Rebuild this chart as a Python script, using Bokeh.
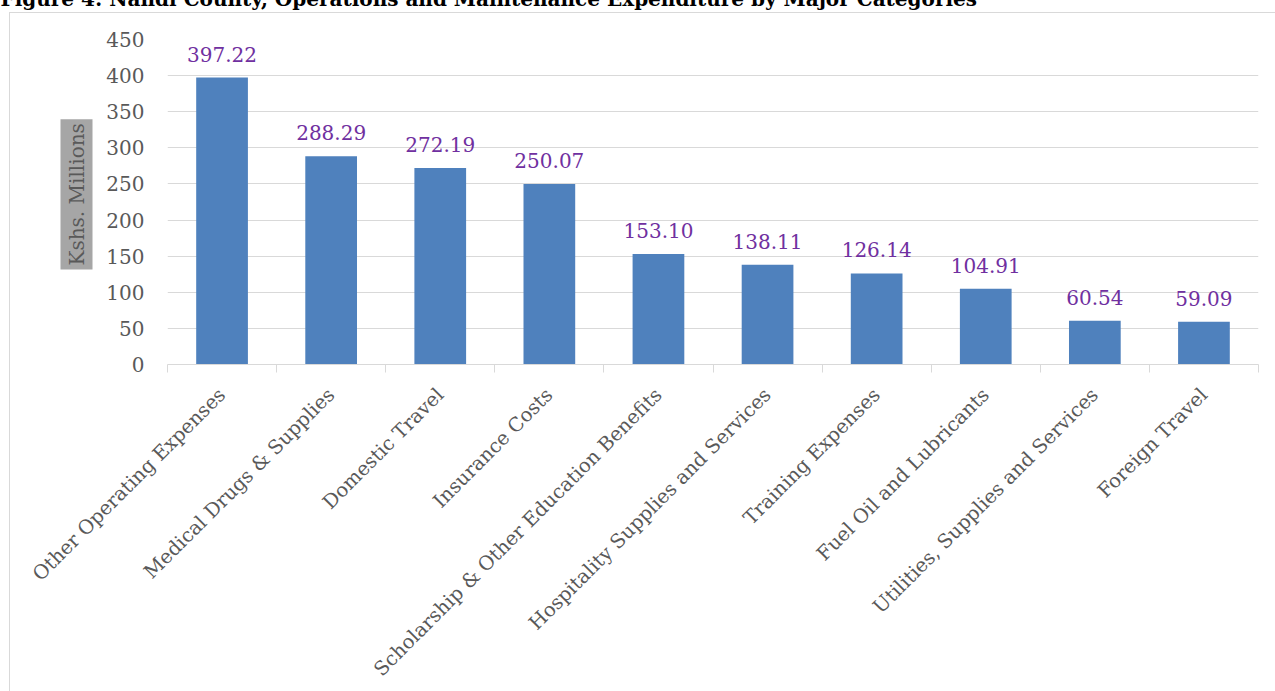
import math
from bokeh.plotting import figure
from bokeh.models import (ColumnDataSource, Range1d, FixedTicker, LabelSet, Title)
from bokeh.core.properties import value
from bokeh.embed import file_html
from bokeh.resources import INLINE

categories = [
    "Other Operating Expenses",
    "Medical Drugs & Supplies",
    "Domestic Travel",
    "Insurance Costs",
    "Scholarship & Other Education Benefits",
    "Hospitality Supplies and Services",
    "Training Expenses",
    "Fuel Oil and Lubricants",
    "Utilities, Supplies and Services",
    "Foreign Travel",
]
values = [397.22, 288.29, 272.19, 250.07, 153.10, 138.11, 126.14, 104.91, 60.54, 59.09]
value_labels = ["397.22", "288.29", "272.19", "250.07", "153.10", "138.11", "126.14", "104.91", "60.54", "59.09"]
y_ticks = [0, 50, 100, 150, 200, 250, 300, 350, 400, 450]
title_text = "Figure 4: Nandi County, Operations and Maintenance Expenditure by Major Categories"
y_title = "Kshs. Millions"

FONT = "DejaVu Serif"
GRAY = "#595959"
LINE = "#D9D9D9"
BAR = "#4F81BD"
LABEL = "#7030A0"

SHIFT = 45  # canvas is moved up so the top of the title is cut by the page edge

n = len(categories)
centers = [i + 0.5 for i in range(n)]
src = ColumnDataSource(dict(x=centers, cat=categories, val=values, lbl=value_labels))

p = figure(width=1275, height=691 + SHIFT,
           x_range=Range1d(0, n), y_range=Range1d(0, 450),
           output_backend="svg", toolbar_location=None,
           min_border_left=167, min_border_right=17, min_border_top=39 + SHIFT, min_border_bottom=0)
# chart-area frame line (left and top edges) drawn as the element background
p.styles = {
    "margin-top": f"-{SHIFT}px",
    "background-color": "white",
    "background-image": f"linear-gradient({LINE}, {LINE}), linear-gradient({LINE}, {LINE})",
    "background-size": "100% 1px, 1px 100%",
    "background-position": f"9px {12 + SHIFT}px, 9px {12 + SHIFT}px",
    "background-repeat": "no-repeat",
}
p.outline_line_color = None
p.background_fill_color = None
p.border_fill_color = None

# chart title (its top is cut by the page edge in the reference)
p.title.text = title_text
p.title.align = "left"
p.title.offset = -167
p.title.standoff = 58
p.title.text_font = FONT
p.title.text_font_size = "20px"
p.title.text_font_style = "bold"
p.title.text_color = "black"

# y axis
yt = FixedTicker(ticks=y_ticks)
p.yaxis.ticker = yt
p.ygrid.ticker = yt
p.yaxis.axis_line_color = None
p.yaxis.major_tick_line_color = None
p.yaxis.minor_tick_line_color = None
p.yaxis.major_tick_out = 0
p.yaxis.major_tick_in = 0
p.yaxis.major_label_standoff = 23
p.yaxis.major_label_text_font = FONT
p.yaxis.major_label_text_font_size = "20px"
p.yaxis.major_label_text_color = GRAY
p.ygrid.grid_line_color = LINE
p.ygrid.grid_line_width = 1
p.xgrid.visible = False

# x axis: labels at category centres, small ticks at category boundaries
xt = FixedTicker(ticks=centers, minor_ticks=list(range(n + 1)))
p.xaxis.ticker = xt
p.xaxis.major_label_overrides = {c: name for c, name in zip(centers, categories)}
p.xaxis.major_label_orientation = math.pi / 4
p.xaxis.axis_line_color = LINE
p.xaxis.major_tick_line_color = None
p.xaxis.major_tick_out = 0
p.xaxis.major_tick_in = 0
p.xaxis.minor_tick_line_color = LINE
p.xaxis.minor_tick_out = 8
p.xaxis.minor_tick_in = 0
p.xaxis.major_label_standoff = 19
p.xaxis.major_label_text_font = FONT
p.xaxis.major_label_text_font_size = "19.5px"
p.xaxis.major_label_text_color = GRAY

p.vbar(x="x", top="val", width=0.474, source=src, fill_color=BAR, line_color=None)

labels = LabelSet(x="x", y="val", text="lbl", source=src, text_align="center",
                  text_baseline="alphabetic", y_offset=16,
                  text_font=value(FONT), text_font_size=value("20px"), text_color=LABEL)
p.add_layout(labels)

# y axis title in a grey box
ytitle = Title(text=y_title, align="left", text_font=FONT, text_font_size="20px",
               text_font_style="normal", text_color=GRAY, background_fill_color="#A6A6A6",
               padding=4, standoff=22, offset=95)
p.add_layout(ytitle, "left")

open("out.html", "w").write(file_html(p, INLINE))
